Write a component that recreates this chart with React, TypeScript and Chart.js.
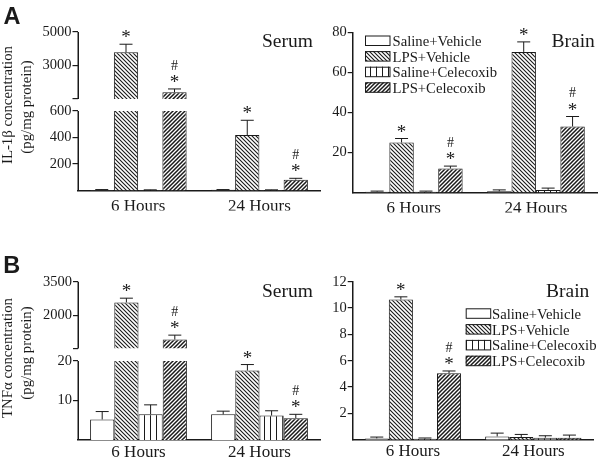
import React, { useEffect, useRef } from 'react';
import { Chart, registerables } from 'chart.js';

Chart.register(...registerables);

const SERIF = "'Liberation Serif', 'Times New Roman', serif";
const SANS = "'Liberation Sans', Arial, sans-serif";
const INK = '#1a1a1a';

const categories = ['6 Hours', '24 Hours'];
const seriesNames = ['Saline+Vehicle', 'LPS+Vehicle', 'Saline+Celecoxib', 'LPS+Celecoxib'];
const seriesFills = ['open', 'back', 'vertical', 'forward'];

// A – IL-1β, serum (pg/mg protein)
const il1bSerumSalineVehicle = [4, 5];
const il1bSerumLpsVehicle = [3790, 418];
const il1bSerumSalineCelecoxib = [3, 3];
const il1bSerumLpsCelecoxib = [1400, 82];
const il1bSerumSalineVehicleSem = [3, 2];
const il1bSerumLpsVehicleSem = [480, 112];
const il1bSerumSalineCelecoxibSem = [2, 2];
const il1bSerumLpsCelecoxibSem = [200, 10];
const il1bSerumTicks = [200, 400, 600, 1000, 3000, 5000];
const il1bSerumTickLabels = ['200', '400', '600', '', '3000', '5000'];
const il1bSerumBreak = [600, 1000, 5000];

// A – IL-1β, brain
const il1bBrainSalineVehicle = [0.4, 0.6];
const il1bBrainLpsVehicle = [25, 70.3];
const il1bBrainSalineCelecoxib = [0.4, 1.3];
const il1bBrainLpsCelecoxib = [12, 33];
const il1bBrainSalineVehicleSem = [0.3, 0.7];
const il1bBrainLpsVehicleSem = [2, 5];
const il1bBrainSalineCelecoxibSem = [0.3, 0.9];
const il1bBrainLpsCelecoxibSem = [1.2, 5];
const il1bBrainTicks = [20, 40, 60, 80];
const il1bBrainTickLabels = ['20', '40', '60', '80'];
const il1bBrainMax = 80;

// B – TNFα, serum
const tnfSerumSalineVehicle = [5.2, 6.5];
const tnfSerumLpsVehicle = [2570, 17.6];
const tnfSerumSalineCelecoxib = [6.5, 6.2];
const tnfSerumLpsCelecoxib = [900, 5.5];
const tnfSerumSalineVehicleSem = [2, 0.8];
const tnfSerumLpsVehicleSem = [190, 1.5];
const tnfSerumSalineCelecoxibSem = [2.4, 1.2];
const tnfSerumLpsCelecoxibSem = [200, 1];
const tnfSerumTicks = [10, 20, 500, 2000, 3500];
const tnfSerumTickLabels = ['10', '20', '', '2000', '3500'];
const tnfSerumBreak = [20, 500, 3500];

// B – TNFα, brain
const tnfBrainSalineVehicle = [0.1, 0.25];
const tnfBrainLpsVehicle = [10.65, 0.2];
const tnfBrainSalineCelecoxib = [0.08, 0.15];
const tnfBrainLpsCelecoxib = [5.05, 0.15];
const tnfBrainSalineVehicleSem = [0.1, 0.25];
const tnfBrainLpsVehicleSem = [0.2, 0.2];
const tnfBrainSalineCelecoxibSem = [0.05, 0.15];
const tnfBrainLpsCelecoxibSem = [0.17, 0.2];
const tnfBrainTicks = [2, 4, 6, 8, 10, 12];
const tnfBrainTickLabels = ['2', '4', '6', '8', '10', '12'];
const tnfBrainMax = 12;

// significance marks
const noMarks = ['', ''];
const starBoth = ['*', '*'];
const hashStarBoth = ['#*', '#*'];
const starFirst = ['*', ''];
const hashStarFirst = ['#*', ''];

type Series = { values: number[]; sem: number[]; marks: string[] };
type Brk = { lowMax: number; highMin: number; highMax: number; lowPx: number; gapPx: number; highPx: number };
type PanelCfg = {
  left: number; top: number; width: number; height: number;
  area: { l: number; r: number; t: number; b: number };
  series: Series[];
  ticks: number[]; tickLabels: string[];
  brk?: Brk; max?: number;
  xPad: number;
  title: string; titlePos: [number, number];
  letter?: string; letterPos?: [number, number];
  yTitle?: string[]; yTitlePos?: [number, number][];
  legend?: { box: number; text: number; base: number; step: number };
};

const mk = (v: number[], s: number[], m: string[]): Series => ({ values: v, sem: s, marks: m });

const panels: PanelCfg[] = [
  {
    left: 0, top: 0, width: 322, height: 230,
    area: { l: 77.5, r: 320, t: 32, b: 190.5 },
    series: [
      mk(il1bSerumSalineVehicle, il1bSerumSalineVehicleSem, noMarks),
      mk(il1bSerumLpsVehicle, il1bSerumLpsVehicleSem, starBoth),
      mk(il1bSerumSalineCelecoxib, il1bSerumSalineCelecoxibSem, noMarks),
      mk(il1bSerumLpsCelecoxib, il1bSerumLpsCelecoxibSem, hashStarBoth),
    ],
    ticks: il1bSerumTicks, tickLabels: il1bSerumTickLabels,
    brk: { lowMax: il1bSerumBreak[0], highMin: il1bSerumBreak[1], highMax: il1bSerumBreak[2], lowPx: 79.5, gapPx: 12, highPx: 67 },
    xPad: 6,
    title: 'Serum', titlePos: [262, 47],
    letter: 'A', letterPos: [3.5, 24],
    yTitle: ['IL-1\u03b2 concentration', '(pg/mg protein)'], yTitlePos: [[8, 105], [27, 107]],
  },
  {
    left: 322, top: 0, width: 278, height: 230,
    area: { l: 352.7, r: 597, t: 32.5, b: 192.5 },
    series: [
      mk(il1bBrainSalineVehicle, il1bBrainSalineVehicleSem, noMarks),
      mk(il1bBrainLpsVehicle, il1bBrainLpsVehicleSem, starBoth),
      mk(il1bBrainSalineCelecoxib, il1bBrainSalineCelecoxibSem, noMarks),
      mk(il1bBrainLpsCelecoxib, il1bBrainLpsCelecoxibSem, hashStarBoth),
    ],
    ticks: il1bBrainTicks, tickLabels: il1bBrainTickLabels, max: il1bBrainMax,
    xPad: 6,
    title: 'Brain', titlePos: [551.5, 47],
    legend: { box: 365, text: 392.5, base: 46, step: 15.6 },
  },
  {
    left: 0, top: 230, width: 322, height: 232,
    area: { l: 78, r: 320, t: 281.7, b: 440 },
    series: [
      mk(tnfSerumSalineVehicle, tnfSerumSalineVehicleSem, noMarks),
      mk(tnfSerumLpsVehicle, tnfSerumLpsVehicleSem, starBoth),
      mk(tnfSerumSalineCelecoxib, tnfSerumSalineCelecoxibSem, noMarks),
      mk(tnfSerumLpsCelecoxib, tnfSerumLpsCelecoxibSem, hashStarBoth),
    ],
    ticks: tnfSerumTicks, tickLabels: tnfSerumTickLabels,
    brk: { lowMax: tnfSerumBreak[0], highMin: tnfSerumBreak[1], highMax: tnfSerumBreak[2], lowPx: 79, gapPx: 12.5, highPx: 66.8 },
    xPad: 2,
    title: 'Serum', titlePos: [262, 297],
    letter: 'B', letterPos: [3.3, 273.3],
    yTitle: ['TNF\u03b1 concentration', '(pg/mg protein)'], yTitlePos: [[8, 358], [27, 353]],
  },
  {
    left: 322, top: 230, width: 278, height: 232,
    area: { l: 352.7, r: 593.5, t: 281.7, b: 439.7 },
    series: [
      mk(tnfBrainSalineVehicle, tnfBrainSalineVehicleSem, noMarks),
      mk(tnfBrainLpsVehicle, tnfBrainLpsVehicleSem, starFirst),
      mk(tnfBrainSalineCelecoxib, tnfBrainSalineCelecoxibSem, noMarks),
      mk(tnfBrainLpsCelecoxib, tnfBrainLpsCelecoxibSem, hashStarFirst),
    ],
    ticks: tnfBrainTicks, tickLabels: tnfBrainTickLabels, max: tnfBrainMax,
    xPad: 2,
    title: 'Brain', titlePos: [546, 297],
    legend: { box: 465.7, text: 492, base: 318.8, step: 15.8 },
  },
];

function makeFill(ctx: CanvasRenderingContext2D, kind: string): string | CanvasPattern {
  if (kind === 'open') return '#ffffff';
  const c = document.createElement('canvas');
  const s = kind === 'vertical' ? 6 : 4;
  c.width = s;
  c.height = s;
  const g = c.getContext('2d')!;
  g.fillStyle = '#ffffff';
  g.fillRect(0, 0, s, s);
  g.strokeStyle = INK;
  if (kind === 'vertical') {
    g.fillStyle = INK;
    g.fillRect(0, 0, 1, s);
  } else if (kind === 'back') {
    g.lineWidth = 1.1;
    g.beginPath();
    g.moveTo(-1, -1); g.lineTo(s + 1, s + 1);
    g.moveTo(-1, s - 1); g.lineTo(1, s + 1);
    g.moveTo(s - 1, -1); g.lineTo(s + 1, 1);
    g.stroke();
  } else {
    g.lineWidth = 1.5;
    g.beginPath();
    g.moveTo(-1, s + 1); g.lineTo(s + 1, -1);
    g.moveTo(-1, 1); g.lineTo(1, -1);
    g.moveTo(s - 1, s + 1); g.lineTo(s + 1, s - 1);
    g.stroke();
  }
  return ctx.createPattern(c, 'repeat')!;
}

function Panel({ cfg }: { cfg: PanelCfg }) {
  const ref = useRef<HTMLCanvasElement>(null);
  useEffect(() => {
    const canvas = ref.current!;
    const ctx = canvas.getContext('2d')!;
    const fills = seriesFills.map((k) => makeFill(ctx, k));
    const brk = cfg.brk;
    const tf = (v: number) => {
      if (!brk) return v;
      if (v <= brk.lowMax) return (v / brk.lowMax) * brk.lowPx;
      if (v >= brk.highMin) return brk.lowPx + brk.gapPx + ((v - brk.highMin) / (brk.highMax - brk.highMin)) * brk.highPx;
      return brk.lowPx + ((v - brk.lowMax) / (brk.highMin - brk.lowMax)) * brk.gapPx;
    };
    const yMax = brk ? brk.lowPx + brk.gapPx + brk.highPx : cfg.max!;
    const ox = cfg.left, oy = cfg.top;
    const Y_W = cfg.area.l - ox - 2;
    const X_H = 20;

    const datasets: any[] = [];
    cfg.series.forEach((s, i) => {
      if (brk) {
        datasets.push({
          label: seriesNames[i],
          data: s.values.map((v) => tf(Math.min(v, brk.lowMax))),
          stack: 's' + i,
          backgroundColor: fills[i],
          borderColor: INK,
          borderWidth: (c: any) => (s.values[c.dataIndex] > brk.lowMax ? { left: 1, right: 1, top: 0, bottom: 0 } : 1),
          borderSkipped: 'start',
        });
      } else {
        datasets.push({
          label: seriesNames[i],
          data: s.values.slice(),
          backgroundColor: fills[i],
          borderColor: INK,
          borderWidth: 1,
          borderSkipped: 'start',
        });
      }
    });
    if (brk) {
      cfg.series.forEach((s, i) => {
        datasets.push({
          label: seriesNames[i] + ' (upper)',
          data: s.values.map((v) => (v > brk.highMin ? [tf(brk.highMin), tf(v)] : null)),
          stack: 's' + i,
          backgroundColor: fills[i],
          borderColor: INK,
          borderWidth: { left: 1, right: 1, top: 1, bottom: 0 },
          borderSkipped: false,
        });
      });
    }

    const decor = {
      id: 'decor',
      afterDatasetsDraw(chart: any) {
        const c = chart.ctx;
        const ys = chart.scales.y;
        c.save();
        c.strokeStyle = INK;
        c.fillStyle = INK;
        c.lineWidth = 1;
        cfg.series.forEach((s, si) => {
          const meta = chart.getDatasetMeta(si);
          s.values.forEach((v, ci) => {
            const el = meta.data[ci];
            if (!el) return;
            const x = el.x;
            const yTop = ys.getPixelForValue(tf(v));
            const yErr = ys.getPixelForValue(tf(v + s.sem[ci]));
            c.beginPath();
            c.moveTo(x, yTop);
            c.lineTo(x, yErr);
            c.moveTo(x - 6.5, yErr);
            c.lineTo(x + 6.5, yErr);
            c.stroke();
            const m = s.marks[ci];
            if (m) {
              const starC = yErr - 10;
              c.textAlign = 'center';
              c.textBaseline = 'alphabetic';
              c.font = `19px ${SERIF}`;
              c.fillText('*', x, starC + 9);
              if (m.indexOf('#') >= 0) {
                c.font = `14px ${SERIF}`;
                const hC = starC - 14;
                c.fillText('#', x, hC + 4.7);
              }
            }
          });
        });
        c.restore();
      },
      afterDraw(chart: any) {
        const c = chart.ctx;
        const ys = chart.scales.y;
        const area = chart.chartArea;
        c.save();
        c.fillStyle = INK;
        c.strokeStyle = INK;
        if (brk) {
          c.lineWidth = 1.5;
          const x = Math.round(area.left) + 0.25;
          c.beginPath();
          c.moveTo(x, ys.getPixelForValue(tf(0)));
          c.lineTo(x, ys.getPixelForValue(tf(brk.lowMax)));
          c.moveTo(x, ys.getPixelForValue(tf(brk.highMin)));
          c.lineTo(x, ys.getPixelForValue(tf(brk.highMax)));
          c.stroke();
        }
        // panel title
        c.textAlign = 'left';
        c.textBaseline = 'alphabetic';
        c.font = `19.5px ${SERIF}`;
        c.fillText(cfg.title, cfg.titlePos[0] - ox, cfg.titlePos[1] - oy);
        if (cfg.letter && cfg.letterPos) {
          c.font = `bold 23.5px ${SANS}`;
          c.fillText(cfg.letter, cfg.letterPos[0] - ox, cfg.letterPos[1] - oy);
        }
        if (cfg.yTitle && cfg.yTitlePos) {
          c.font = `14.8px ${SERIF}`;
          c.textAlign = 'center';
          c.textBaseline = 'middle';
          cfg.yTitle.forEach((t, i) => {
            const [px, py] = cfg.yTitlePos![i];
            c.save();
            c.translate(px - ox, py - oy);
            c.rotate(-Math.PI / 2);
            c.fillText(t, 0, 0);
            c.restore();
          });
        }
        if (cfg.legend) {
          const L = cfg.legend;
          c.font = `14.7px ${SERIF}`;
          c.textAlign = 'left';
          c.textBaseline = 'alphabetic';
          c.lineWidth = 1;
          seriesNames.forEach((name, i) => {
            const base = L.base + i * L.step - oy;
            const bx = L.box - ox;
            c.fillStyle = fills[i] as any;
            c.fillRect(bx, base - 10.5, 25, 10);
            c.strokeRect(bx + 0.5, base - 10, 24.5, 9.5);
            c.fillStyle = INK;
            c.fillText(name, L.text - ox, base);
          });
        }
        c.restore();
      },
    };

    const chart = new Chart(canvas, {
      type: 'bar',
      data: { labels: categories, datasets },
      options: {
        responsive: false,
        animation: false,
        devicePixelRatio: 1,
        layout: {
          padding: {
            left: cfg.area.l - ox - Y_W,
            right: ox + cfg.width - cfg.area.r,
            top: cfg.area.t - oy,
            bottom: oy + cfg.height - cfg.area.b - X_H,
          },
        },
        datasets: { bar: { categoryPercentage: 0.8, barPercentage: 1.0 } },
        plugins: { legend: { display: false }, tooltip: { enabled: false } },
        scales: {
          x: {
            stacked: brk ? true : false,
            grid: { display: false, drawTicks: false },
            border: { display: true, color: INK, width: 1.5 },
            ticks: { color: INK, font: { family: SERIF, size: 17 }, padding: cfg.xPad, maxRotation: 0, autoSkip: false },
            afterFit: (s: any) => { s.height = X_H; },
          },
          y: {
            stacked: false,
            min: 0,
            max: yMax,
            grid: { display: true, drawOnChartArea: false, drawTicks: true, tickLength: 5, color: INK, lineWidth: 1.2 },
            border: { display: !brk, color: INK, width: 1.5 },
            ticks: {
              color: INK,
              font: { family: SERIF, size: 14.5 },
              padding: 1,
              autoSkip: false,
              callback: (_v: any, idx: number) => cfg.tickLabels[idx],
            },
            afterBuildTicks: (s: any) => { s.ticks = cfg.ticks.map((v) => ({ value: tf(v) })); },
            afterFit: (s: any) => { s.width = Y_W; },
          },
        },
      } as any,
      plugins: [decor],
    });
    return () => chart.destroy();
  }, []);
  return (
    <canvas
      ref={ref}
      width={cfg.width}
      height={cfg.height}
      style={{ position: 'absolute', left: cfg.left, top: cfg.top, width: cfg.width, height: cfg.height }}
    />
  );
}

export default function App() {
  return (
    <div style={{ position: 'fixed', left: 0, top: 0, width: 600, height: 462, background: '#ffffff', overflow: 'hidden' }}>
      {panels.map((p, i) => (
        <Panel key={i} cfg={p} />
      ))}
    </div>
  );
}
